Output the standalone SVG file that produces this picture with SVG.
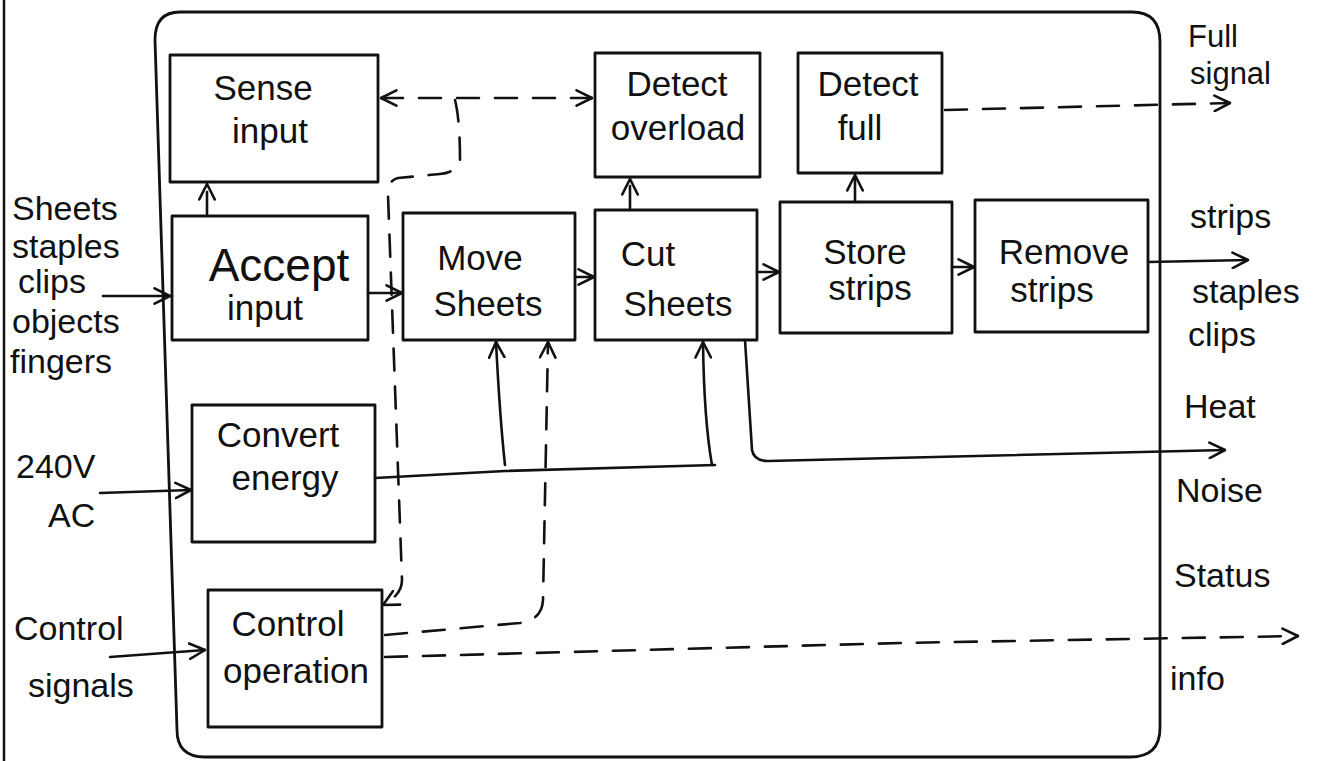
<svg xmlns="http://www.w3.org/2000/svg" width="1332" height="761" viewBox="0 0 1332 761">
<defs>
<style>
.bg{fill:#ffffff}
.box{fill:none;stroke:#111;stroke-width:2.8;stroke-linejoin:round}
.frame{fill:none;stroke:#111;stroke-width:2.8}
.ln{fill:none;stroke:#111;stroke-width:2.6;stroke-linecap:round;stroke-linejoin:round}
.dash{fill:none;stroke:#111;stroke-width:2.6;stroke-dasharray:22 16;stroke-linecap:round;stroke-linejoin:round}
.t{font-family:"Liberation Sans","DejaVu Sans",sans-serif;font-size:35px;fill:#111;text-anchor:middle}
.big{font-size:46px}
.ext{font-family:"Liberation Sans","DejaVu Sans",sans-serif;font-size:34px;fill:#111;text-anchor:start}
.sm{font-size:31px}
</style>
<marker id="ah" viewBox="0 0 14 14" refX="13" refY="7" markerWidth="18" markerHeight="18" markerUnits="userSpaceOnUse" orient="auto">
<path d="M1,1 L13,7 L1,13" fill="none" stroke="#111" stroke-width="2" stroke-linecap="round" stroke-linejoin="round"/>
</marker>
<marker id="ahs" viewBox="0 0 14 14" refX="1" refY="7" markerWidth="18" markerHeight="18" markerUnits="userSpaceOnUse" orient="auto">
<path d="M13,1 L1,7 L13,13" fill="none" stroke="#111" stroke-width="2" stroke-linecap="round" stroke-linejoin="round"/>
</marker>
</defs>
<rect class="bg" x="0" y="0" width="1332" height="761"/>
<line x1="4" y1="0" x2="4" y2="761" stroke="#111" stroke-width="2.5"/>
<g id="boundary">
<path class="frame" d="M180,12 L1132,12 Q1160,12 1160,42 L1160,728 Q1160,757 1130,757 L205,757 Q177,757 177,730 L155,40 Q155,12 180,12 Z"/>
</g>
<g id="connectors">
<line class="ln" x1="103" y1="296" x2="170" y2="296" marker-end="url(#ah)"/>
<line class="ln" x1="368" y1="293" x2="402" y2="293" marker-end="url(#ah)"/>
<line class="ln" x1="575" y1="277" x2="594" y2="277" marker-end="url(#ah)"/>
<line class="ln" x1="757" y1="272" x2="779" y2="272" marker-end="url(#ah)"/>
<line class="ln" x1="952" y1="267" x2="974" y2="267" marker-end="url(#ah)"/>
<line class="ln" x1="1148" y1="262" x2="1248" y2="260" marker-end="url(#ah)"/>
<line class="dash" x1="207" y1="214" x2="207" y2="184" stroke-dasharray="10 8" marker-end="url(#ah)"/>
<line class="dash" x1="630" y1="208" x2="630" y2="179" stroke-dasharray="10 8" marker-end="url(#ah)"/>
<line class="dash" x1="855" y1="200" x2="855" y2="175" stroke-dasharray="10 8" marker-end="url(#ah)"/>
<line class="dash" x1="945" y1="110" x2="1230" y2="103" marker-end="url(#ah)"/>
<path class="dash" d="M381,98 L592,98" marker-start="url(#ahs)" marker-end="url(#ah)"/>
<path class="dash" d="M455,100 Q460,120 460,160 Q458,172 440,174 L398,178 Q388,180 388,195 L402,580 Q402,595 383,605" marker-end="url(#ah)"/>
<path class="dash" d="M385,635 L520,623 Q542,620 543,600 L548,342" marker-end="url(#ah)"/>
<path class="dash" d="M385,657 L900,643 L1298,636" marker-end="url(#ah)"/>
<path class="ln" d="M375,478 L505,471 L715,465"/>
<path class="ln" d="M505,465 Q500,420 496,342" marker-end="url(#ah)"/>
<path class="ln" d="M712,465 Q704,420 703,342" marker-end="url(#ah)"/>
<path class="ln" d="M745,340 L752,450 Q754,461 768,461 L1225,450" marker-end="url(#ah)"/>
<line class="ln" x1="100" y1="493" x2="191" y2="490" marker-end="url(#ah)"/>
<line class="ln" x1="110" y1="657" x2="205" y2="650" marker-end="url(#ah)"/>
</g>
<g id="sense-input">
<rect class="box" x="170" y="55" width="208" height="127"/>
<text class="t" x="263" y="100">Sense</text>
<text class="t" x="270" y="143">input</text>
</g>
<g id="detect-overload">
<rect class="box" x="595" y="53" width="165" height="124"/>
<text class="t" x="677" y="96">Detect</text>
<text class="t" x="678" y="140">overload</text>
</g>
<g id="detect-full">
<rect class="box" x="798" y="53" width="144" height="120"/>
<text class="t" x="868" y="96">Detect</text>
<text class="t" x="860" y="140">full</text>
</g>
<g id="accept-input">
<rect class="box" x="172" y="216" width="196" height="124"/>
<text class="t big" x="279" y="281">Accept</text>
<text class="t" x="265" y="320">input</text>
</g>
<g id="move-sheets">
<rect class="box" x="403" y="213" width="172" height="127"/>
<text class="t" x="480" y="270">Move</text>
<text class="t" x="488" y="316">Sheets</text>
</g>
<g id="cut-sheets">
<rect class="box" x="595" y="210" width="162" height="130"/>
<text class="t" x="648" y="266">Cut</text>
<text class="t" x="678" y="316">Sheets</text>
</g>
<g id="store-strips">
<rect class="box" x="780" y="202" width="172" height="131"/>
<text class="t" x="865" y="264">Store</text>
<text class="t" x="870" y="300">strips</text>
</g>
<g id="remove-strips">
<rect class="box" x="975" y="200" width="173" height="132"/>
<text class="t" x="1064" y="264">Remove</text>
<text class="t" x="1052" y="302">strips</text>
</g>
<g id="convert-energy">
<rect class="box" x="192" y="405" width="183" height="137"/>
<text class="t" x="278" y="447">Convert</text>
<text class="t" x="285" y="490">energy</text>
</g>
<g id="control-operation">
<rect class="box" x="208" y="590" width="174" height="137"/>
<text class="t" x="288" y="636">Control</text>
<text class="t" x="296" y="683">operation</text>
</g>
<g id="external-labels">
<text class="ext" x="12" y="220">Sheets</text>
<text class="ext" x="12" y="258">staples</text>
<text class="ext" x="18" y="293">clips</text>
<text class="ext" x="12" y="333">objects</text>
<text class="ext" x="10" y="373">fingers</text>
<text class="ext" x="16" y="478">240V</text>
<text class="ext" x="48" y="527">AC</text>
<text class="ext" x="14" y="640">Control</text>
<text class="ext" x="28" y="697">signals</text>
<text class="ext sm" x="1188" y="47">Full</text>
<text class="ext sm" x="1190" y="84">signal</text>
<text class="ext" x="1190" y="228">strips</text>
<text class="ext" x="1192" y="303">staples</text>
<text class="ext" x="1188" y="346">clips</text>
<text class="ext" x="1184" y="418">Heat</text>
<text class="ext" x="1176" y="502">Noise</text>
<text class="ext" x="1174" y="587">Status</text>
<text class="ext" x="1170" y="690">info</text>
</g>
</svg>
